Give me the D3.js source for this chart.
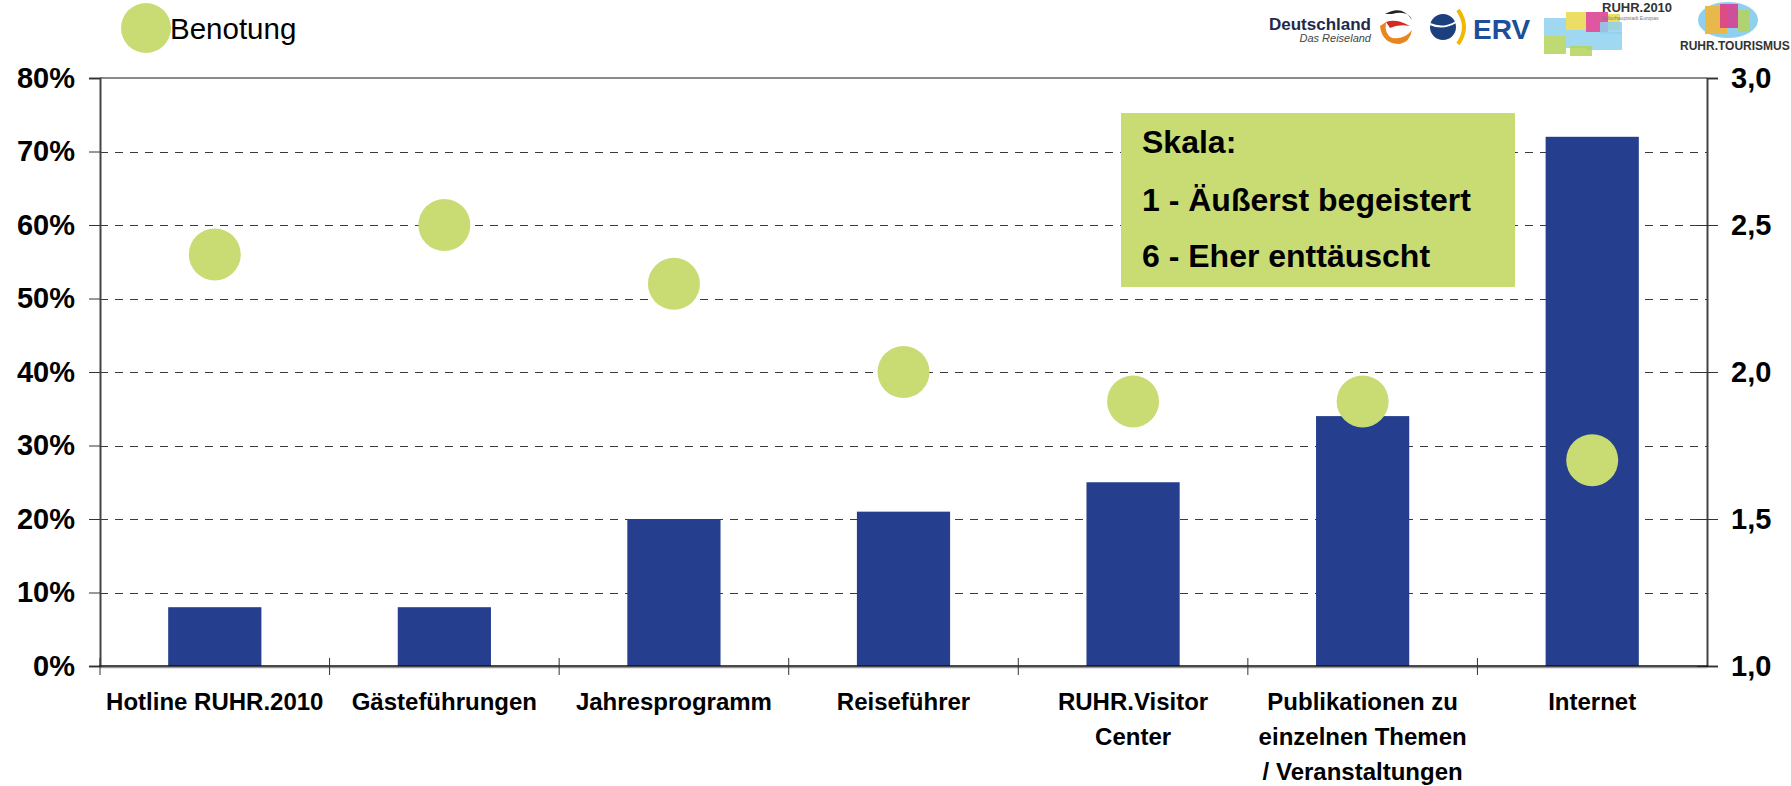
<!DOCTYPE html>
<html>
<head>
<meta charset="utf-8">
<script src="https://cdn.jsdelivr.net/npm/d3@7"></script>
<style>
  html, body { margin: 0; padding: 0; background: #fff; }
  svg { display: block; font-family: "Liberation Sans", Arial, sans-serif; }
</style>
</head>
<body>
<svg id="chart" width="1791" height="786"></svg>
<script>
// ---- data ----
const categories = [
  ["Hotline RUHR.2010"],
  ["Gästeführungen"],
  ["Jahresprogramm"],
  ["Reiseführer"],
  ["RUHR.Visitor", "Center"],
  ["Publikationen zu", "einzelnen Themen", "/ Veranstaltungen"],
  ["Internet"]
];
const shareValues = [0.08, 0.08, 0.20, 0.21, 0.25, 0.34, 0.72];
const gradeValues = [2.4, 2.5, 2.3, 2.0, 1.9, 1.9, 1.7];
const leftTicks = [0, 0.1, 0.2, 0.3, 0.4, 0.5, 0.6, 0.7, 0.8];
const rightTicks = [1.0, 1.5, 2.0, 2.5, 3.0];
const legendLabel = "Benotung";
const scaleLines = ["Skala:", "1 - Äußerst begeistert", "6 - Eher enttäuscht"];

// ---- layout ----
const svg = d3.select("#chart");
const L = 100, R = 1707, T = 78, B = 666;
const barColor = "#253f8e";
const dotColor = "#c9dc74";

const keys = categories.map(c => c.join(" "));
const x = d3.scaleBand().domain(keys).range([L, R]).paddingInner(0.594).paddingOuter(0.297);
const yL = d3.scaleLinear().domain([0, 0.8]).range([B, T]);
const yR = d3.scaleLinear().domain([1, 3]).range([B, T]);

// gridlines (dashed)
svg.append("g").selectAll("line")
  .data(leftTicks.filter(t => t > 0 && t < 0.8))
  .join("line")
  .attr("x1", L).attr("x2", R)
  .attr("y1", d => Math.round(yL(d)) + 0.5).attr("y2", d => Math.round(yL(d)) + 0.5)
  .attr("stroke", "#3a3a3a").attr("stroke-width", 1)
  .attr("stroke-dasharray", "8,7");

// top border
svg.append("line").attr("x1", L).attr("x2", R).attr("y1", T).attr("y2", T)
  .attr("stroke", "#8a8a8a").attr("stroke-width", 2);

// bars
svg.append("g").selectAll("rect")
  .data(shareValues)
  .join("rect")
  .attr("x", (d, i) => x(keys[i]))
  .attr("width", x.bandwidth())
  .attr("y", d => yL(d))
  .attr("height", d => B - yL(d))
  .attr("fill", barColor);

// left axis
const gL = svg.append("g").attr("transform", `translate(${L},0)`)
  .call(d3.axisLeft(yL).tickValues(leftTicks).tickFormat(d3.format(".0%")).tickSize(11).tickPadding(14));
gL.select(".domain").attr("stroke", "#444").attr("stroke-width", 2);
gL.selectAll(".tick line").attr("stroke", "#333");
gL.selectAll("text").attr("font-size", 29).attr("font-weight", "bold").attr("fill", "#000");

// right axis
const gR = svg.append("g").attr("transform", `translate(${R},0)`)
  .call(d3.axisRight(yR).tickValues(rightTicks).tickFormat(d => d3.format(".1f")(d).replace(".", ",")).tickSize(11).tickPadding(13));
gR.select(".domain").attr("stroke", "#444").attr("stroke-width", 2);
gR.selectAll(".tick line").attr("stroke", "#333").attr("x1", -10);
gR.selectAll(".tick").filter(d => d === 3.0).select("line").attr("x1", 0);
gR.selectAll("text").attr("font-size", 29).attr("font-weight", "bold").attr("fill", "#000");

// bottom axis
svg.append("line").attr("x1", L).attr("x2", R).attr("y1", B + 1.5).attr("y2", B + 1.5)
  .attr("stroke", "#999").attr("stroke-width", 1.5);
svg.append("line").attr("x1", L - 1).attr("x2", R + 1).attr("y1", B).attr("y2", B)
  .attr("stroke", "#111").attr("stroke-width", 1.5);
const step = x.step();
const catBounds = d3.range(keys.length + 1).map(i => L + i * step);
svg.append("g").selectAll("line")
  .data(catBounds.slice(0, keys.length))
  .join("line")
  .attr("x1", d => d).attr("x2", d => d)
  .attr("y1", B - 8).attr("y2", B + 9)
  .attr("stroke", "#333").attr("stroke-width", 1);

// category labels
const lab = svg.append("g").selectAll("text")
  .data(categories)
  .join("text")
  .attr("x", (d, i) => x(keys[i]) + x.bandwidth() / 2)
  .attr("y", 710)
  .attr("text-anchor", "middle")
  .attr("font-size", 24).attr("font-weight", "bold").attr("fill", "#000");
lab.selectAll("tspan")
  .data(d => d)
  .join("tspan")
  .attr("x", function () { return this.parentNode.getAttribute("x"); })
  .attr("dy", (d, i) => i === 0 ? 0 : 35)
  .text(d => d);

// dots
svg.append("g").selectAll("circle")
  .data(gradeValues)
  .join("circle")
  .attr("cx", (d, i) => x(keys[i]) + x.bandwidth() / 2)
  .attr("cy", d => yR(d))
  .attr("r", 26)
  .attr("fill", dotColor);

// scale box
const box = svg.append("g");
box.append("rect").attr("x", 1121).attr("y", 113).attr("width", 394).attr("height", 174).attr("fill", dotColor);
box.selectAll("text").data(scaleLines).join("text")
  .attr("x", 1142)
  .attr("y", (d, i) => [153, 211, 267][i])
  .attr("font-size", 32).attr("font-weight", "bold").attr("fill", "#000")
  .text(d => d);

// legend
svg.append("circle").attr("cx", 146).attr("cy", 28).attr("r", 25).attr("fill", dotColor);
svg.append("text").attr("x", 170).attr("y", 39).attr("font-size", 29.5).attr("fill", "#000").text(legendLabel);

// logos (approximated)
const logos = svg.append("g");
logos.append("text").attr("x", 1371).attr("y", 30).attr("text-anchor", "end")
  .attr("font-size", 17).attr("font-weight", "bold").attr("fill", "#1e2a4a").text("Deutschland");
logos.append("text").attr("x", 1371).attr("y", 42).attr("text-anchor", "end")
  .attr("font-size", 11).attr("font-style", "italic").attr("fill", "#444").text("Das Reiseland");
logos.append("path").attr("d", "M1385,14 Q1402,4 1412,20 Q1408,10 1392,14 Z").attr("fill", "#222");
logos.append("path").attr("d", "M1380,26 Q1382,44 1400,44 Q1410,42 1412,30 Q1404,40 1392,38 Q1384,34 1386,22 Z").attr("fill", "#e8871e");
logos.append("path").attr("d", "M1386,22 Q1396,18 1410,26 Q1398,24 1390,28 Z").attr("fill", "#d42a1f");
logos.append("circle").attr("cx", 1443).attr("cy", 27).attr("r", 13).attr("fill", "#1c3f7e");
logos.append("path").attr("d", "M1430,24 Q1443,30 1456,22").attr("stroke", "#fff").attr("stroke-width", 2).attr("fill", "none");
logos.append("path").attr("d", "M1458,10 Q1470,27 1458,44").attr("stroke", "#f2b700").attr("stroke-width", 4).attr("fill", "none");
logos.append("text").attr("x", 1473).attr("y", 39).attr("font-size", 28).attr("font-weight", "bold").attr("fill", "#1d4e9a").text("ERV");
const gridCols = ["#8fd0ef", "#e9d84a", "#d93a8e", "#8fd0ef", "#b5d35b", "#8fd0ef", "#b5d35b", "#e9d84a", "#8fd0ef"];
const cells = [[1544,18,22,18],[1566,12,20,18],[1586,12,22,20],[1566,30,20,18],[1544,36,22,18],[1586,32,36,18],[1570,46,22,10],[1608,14,12,16],[1600,22,22,12]];
logos.selectAll("rect.cell").data(cells).join("rect").attr("class", "cell")
  .attr("x", d => d[0]).attr("y", d => d[1]).attr("width", d => d[2]).attr("height", d => d[3])
  .attr("fill", (d, i) => gridCols[i]).attr("opacity", 0.85);
logos.append("text").attr("x", 1602).attr("y", 12).attr("font-size", 13).attr("font-weight", "bold").attr("fill", "#333").text("RUHR.2010");
logos.append("text").attr("x", 1602).attr("y", 20).attr("font-size", 5).attr("fill", "#777").text("Kulturhauptstadt Europas");
logos.append("ellipse").attr("cx", 1728).attr("cy", 20).attr("rx", 30).attr("ry", 18).attr("fill", "#8fd0ef");
logos.append("rect").attr("x", 1705).attr("y", 6).attr("width", 22).attr("height", 28).attr("fill", "#e9b84a");
logos.append("rect").attr("x", 1720).attr("y", 4).attr("width", 18).attr("height", 24).attr("fill", "#d93a8e").attr("opacity", 0.85);
logos.append("rect").attr("x", 1738).attr("y", 10).attr("width", 12).attr("height", 22).attr("fill", "#b5d35b").attr("opacity", 0.85);
logos.append("text").attr("x", 1680).attr("y", 50).attr("font-size", 12).attr("font-weight", "bold").attr("fill", "#333").text("RUHR.TOURISMUS");
</script>
</body>
</html>
